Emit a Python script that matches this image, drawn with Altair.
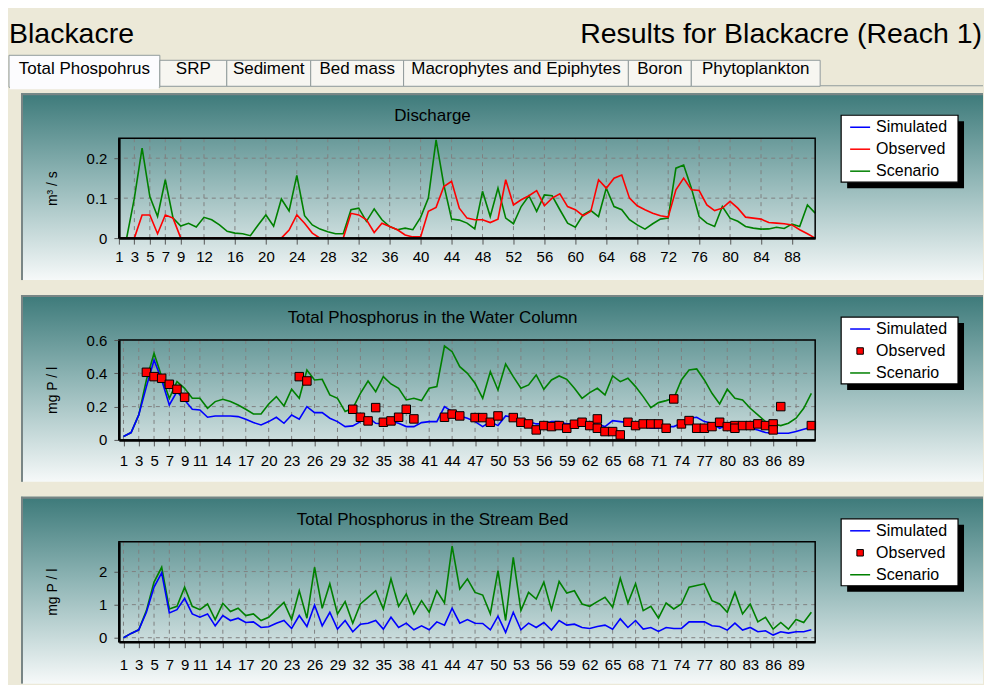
import altair as alt
import pandas as pd

FONT = "Liberation Sans"
W, H = 697, 100
RIGHT = 865  # right edge of the panels, relative to the plot area

# ---------------- data ----------------
days = list(range(1, 92))
series_names = ["Simulated", "Observed", "Scenario"]

header_left = "Blackacre"
header_right = "Results for Blackacre (Reach 1)"
tab_labels = ["Total Phospohrus", "SRP", "Sediment", "Bed mass",
              "Macrophytes and Epiphytes", "Boron", "Phytoplankton"]
panel_titles = ["Discharge", "Total Phosphorus in the Water Column",
                "Total Phosphorus in the Stream Bed"]
y_titles = ["m³ / s", "mg P / l", "mg P / l"]

ticks_dis = [1, 3, 5, 7, 9, 12, 16, 20, 24, 28, 32, 36, 40, 44, 48, 52, 56,
             60, 64, 68, 72, 76, 80, 84, 88]
ticks_tp = [1, 3, 5, 7, 9, 11, 14, 17, 20, 23, 26, 29, 32, 35, 38, 41, 44,
            47, 50, 53, 56, 59, 62, 65, 68, 71, 74, 77, 80, 83, 86, 89]
yticks_dis = [0, 0.1, 0.2]
yticks_tpw = [0, 0.2, 0.4, 0.6]
yticks_tpb = [0, 1, 2]

# Discharge (m3/s)
dis_observed = [
    0, 0, 0, 0.058, 0.058, 0.011, 0.058, 0.05, 0, 0,
    0, 0, 0, 0, 0, 0, 0, 0, 0, 0,
    0, 0, 0.02, 0.058, 0.037, 0.0125, 0, 0, 0, 0,
    0.062, 0.058, 0.046, 0.014, 0.037, 0.029, 0.021, 0.008, 0.003, 0.003,
    0.067, 0.077, 0.129, 0.142, 0.075, 0.05, 0.046, 0.046, 0.039, 0.0475,
    0.146, 0.083, 0.096, 0.106, 0.119, 0.081, 0.1, 0.111, 0.079, 0.071,
    0.056, 0.067, 0.146, 0.125, 0.15, 0.158, 0.1, 0.081, 0.071, 0.0625,
    0.056, 0.0525, 0.121, 0.15, 0.121, 0.119, 0.083, 0.069, 0.075, 0.092,
    0.075, 0.0525, 0.05, 0.0475, 0.039, 0.0375, 0.036, 0.033, 0.021, 0.011,
    0.0]
dis_scenario = [
    0, 0, 0.1, 0.225, 0.104, 0.054, 0.146, 0.05, 0.03, 0.037,
    0.028, 0.052, 0.046, 0.033, 0.017, 0.0125, 0.011, 0.006, 0.033, 0.058,
    0.03, 0.098, 0.068, 0.157, 0.056, 0.033, 0.0225, 0.016, 0.011, 0.011,
    0.071, 0.075, 0.042, 0.073, 0.046, 0.029, 0.021, 0.025, 0.021, 0.052,
    0.1, 0.246, 0.133, 0.048, 0.045, 0.0375, 0.023, 0.117, 0.054, 0.125,
    0.05, 0.036, 0.079, 0.106, 0.067, 0.108, 0.106, 0.071, 0.0375, 0.0275,
    0.058, 0.069, 0.054, 0.125, 0.079, 0.071, 0.046, 0.033, 0.0225, 0.036,
    0.0475, 0.05, 0.175, 0.183, 0.125, 0.054, 0.0375, 0.029, 0.079, 0.05,
    0.042, 0.029, 0.025, 0.0225, 0.023, 0.027, 0.024, 0.035, 0.029, 0.083,
    0.0625]

# Total phosphorus in the water column (mg P/l)
tpw_simulated = [
    0.02, 0.044, 0.15, 0.32, 0.48, 0.36, 0.21, 0.29, 0.24, 0.184,
    0.18, 0.136, 0.144, 0.144, 0.144, 0.14, 0.124, 0.104, 0.09, 0.11,
    0.136, 0.1, 0.15, 0.124, 0.2, 0.164, 0.164, 0.13, 0.11, 0.08,
    0.084, 0.11, 0.136, 0.1, 0.096, 0.11, 0.1, 0.08, 0.08, 0.104,
    0.11, 0.11, 0.2, 0.17, 0.144, 0.13, 0.11, 0.08, 0.11, 0.086,
    0.144, 0.136, 0.116, 0.11, 0.096, 0.096, 0.11, 0.11, 0.096, 0.096,
    0.104, 0.09, 0.094, 0.08, 0.116, 0.11, 0.104, 0.096, 0.08, 0.07,
    0.07, 0.08, 0.08, 0.10, 0.13, 0.136, 0.11, 0.10, 0.07, 0.09,
    0.08, 0.07, 0.07, 0.06, 0.044, 0.04, 0.04, 0.04, 0.05, 0.064,
    0.076]
tpw_scenario = [
    0.02, 0.044, 0.15, 0.36, 0.52, 0.38, 0.25, 0.35, 0.31, 0.25,
    0.25, 0.19, 0.23, 0.244, 0.23, 0.21, 0.184, 0.156, 0.156, 0.216,
    0.26, 0.204, 0.304, 0.25, 0.42, 0.36, 0.364, 0.27, 0.25, 0.17,
    0.19, 0.28, 0.354, 0.29, 0.38, 0.336, 0.31, 0.24, 0.25, 0.236,
    0.31, 0.32, 0.564, 0.53, 0.44, 0.40, 0.34, 0.25, 0.41, 0.30,
    0.456, 0.38, 0.31, 0.33, 0.39, 0.304, 0.36, 0.384, 0.364, 0.31,
    0.25, 0.284, 0.31, 0.27, 0.384, 0.35, 0.37, 0.32, 0.26, 0.194,
    0.224, 0.236, 0.25, 0.36, 0.42, 0.426, 0.36, 0.28, 0.216, 0.304,
    0.25, 0.24, 0.19, 0.15, 0.11, 0.096, 0.086, 0.10, 0.13, 0.19,
    0.28]
tpw_obs_days = [4, 5, 6, 7, 8, 9, 24, 25, 31, 32, 33, 34, 35, 36, 37, 38, 39,
                43, 44, 45, 47, 48, 49, 50, 52, 53, 54, 55, 56, 57, 58, 59, 60,
                61, 62, 63, 63, 64, 65, 66, 67, 68, 69, 70, 71, 72, 73, 74, 75,
                76, 77, 78, 79, 80, 81, 81, 82, 83, 84, 85, 86, 86, 87, 91]
tpw_obs_vals = [0.406, 0.38, 0.37, 0.334, 0.304, 0.256, 0.38, 0.354, 0.184,
                0.136, 0.114, 0.194, 0.106, 0.114, 0.136, 0.184, 0.126,
                0.136, 0.155, 0.144, 0.134, 0.134, 0.106, 0.144, 0.134, 0.106,
                0.096, 0.06, 0.086, 0.08, 0.086, 0.07, 0.094, 0.106, 0.086,
                0.126, 0.07, 0.05, 0.05, 0.03, 0.106, 0.086, 0.096, 0.096,
                0.096, 0.07, 0.246, 0.096, 0.116, 0.07, 0.07, 0.08, 0.106,
                0.08, 0.086, 0.07, 0.086, 0.086, 0.096, 0.086, 0.096, 0.06,
                0.2, 0.086]

# Total phosphorus in the stream bed (mg P/l)
tpb_simulated = [
    0.0, 0.13, 0.24, 0.77, 1.53, 1.96, 0.75, 0.85, 1.19, 0.72,
    0.62, 0.72, 0.36, 0.67, 0.52, 0.59, 0.46, 0.48, 0.31, 0.33,
    0.44, 0.52, 0.28, 0.67, 0.34, 0.99, 0.36, 0.77, 0.26, 0.52,
    0.18, 0.41, 0.44, 0.52, 0.26, 0.62, 0.31, 0.44, 0.24, 0.36,
    0.24, 0.48, 0.38, 0.89, 0.44, 0.55, 0.44, 0.43, 0.24, 0.65,
    0.16, 0.77, 0.24, 0.44, 0.31, 0.46, 0.23, 0.52, 0.38, 0.41,
    0.31, 0.28, 0.34, 0.38, 0.26, 0.57, 0.31, 0.52, 0.26, 0.31,
    0.19, 0.31, 0.28, 0.28, 0.48, 0.48, 0.48, 0.36, 0.34, 0.23,
    0.44, 0.23, 0.31, 0.18, 0.21, 0.08, 0.18, 0.14, 0.18, 0.18,
    0.24]
tpb_scenario = [
    0.0, 0.13, 0.24, 0.82, 1.68, 2.13, 0.87, 0.95, 1.53, 0.95,
    0.85, 1.02, 0.55, 1.04, 0.79, 0.89, 0.67, 0.72, 0.52, 0.62,
    0.85, 1.07, 0.55, 1.42, 0.59, 2.13, 0.89, 1.63, 0.72, 1.09,
    0.44, 1.02, 1.22, 1.42, 0.87, 1.78, 0.95, 1.32, 0.72, 1.12,
    0.77, 1.42, 1.05, 2.77, 1.47, 1.78, 1.37, 1.29, 0.72, 2.03,
    0.52, 2.43, 0.82, 1.37, 1.17, 1.68, 0.85, 1.70, 1.35, 1.42,
    1.02, 0.95, 1.09, 1.22, 0.92, 1.80, 1.05, 1.63, 0.82, 0.95,
    0.59, 1.05, 0.87, 1.02, 1.53, 1.58, 1.63, 1.12, 1.02, 0.77,
    1.37, 0.72, 1.02, 0.48, 0.62, 0.26, 0.46, 0.26, 0.55, 0.46,
    0.77]

# ---------------- styling ----------------
BLUE, RED, GREEN = "#0000ff", "#ff0000", "#008000"
BEIGE = "#ece9d8"
EDGE = "#788585"
one = pd.DataFrame({"k": [0]})

grad = alt.LinearGradient(
    gradient="linear",
    stops=[alt.GradientStop(offset=0, color="#3d7a7a"),
           alt.GradientStop(offset=0.45, color="#8fb5b5"),
           alt.GradientStop(offset=1, color="#f6f9f9")],
    x1=0, x2=0, y1=0, y2=1)


def d_text(text, x, y, size, align="left", baseline="alphabetic", color="black"):
    return alt.Chart(one).mark_text(
        text=text, font=FONT, fontSize=size, align=align, baseline=baseline,
        color=color).encode(x=alt.value(x), y=alt.value(y))


def d_rect(x, x2, y, y2, fill, stroke=None, sw=1.0, fill_opacity=1.0):
    kw = dict(fill=fill, fillOpacity=fill_opacity)
    if stroke is not None:
        kw.update(stroke=stroke, strokeWidth=sw)
    return alt.Chart(one).mark_rect(**kw).encode(
        x=alt.value(x), x2=alt.value(x2), y=alt.value(y), y2=alt.value(y2))


def d_rule(x, x2, y, y2, color, sw):
    return alt.Chart(one).mark_rule(color=color, strokeWidth=sw).encode(
        x=alt.value(x), x2=alt.value(x2), y=alt.value(y), y2=alt.value(y2))


def legend(obs_square):
    layers = [d_rect(729, 846, -17, 50, "black"),
              d_rect(723, 840, -23, 44, "white", stroke="black", sw=1.2)]
    rows = [-11, 11, 33]
    colors = [BLUE, RED, GREEN]
    for name, col, ry in zip(series_names, colors, rows):
        if name == "Observed" and obs_square:
            layers.append(alt.Chart(one).mark_square(
                size=42, fill=RED, stroke="black", strokeWidth=1, opacity=1,
                filled=True).encode(x=alt.value(742), y=alt.value(ry)))
        else:
            layers.append(d_rule(732, 752, ry, ry, col, 1.5))
        layers.append(d_text(name, 758, ry, 16, baseline="middle"))
    return layers


def panel(df, lines, xdomain, xticks, ydomain, yticks, ytitle, title,
          label_pad, leg, obs=None, extra_top=None):
    xscale = alt.Scale(domain=xdomain, nice=False, zero=False)
    yscale = alt.Scale(domain=ydomain, nice=False, zero=False)
    xaxis = alt.Axis(values=xticks, title=None, grid=False, labelOverlap=False,
                     labelFlush=False, labelFontSize=15, labelFont=FONT,
                     labelColor="black", labelPadding=label_pad, tickSize=6,
                     tickColor="#555555", domainColor="black", domainWidth=2.5,
                     zindex=1)
    yaxis = alt.Axis(values=yticks, format="~g", title=ytitle, grid=False,
                     labelFontSize=15, labelFont=FONT, labelColor="black",
                     labelPadding=7, tickSize=5, tickColor="#555555",
                     domainColor="black", domainWidth=2.5, titleX=-66,
                     titleY=H / 2, titleAngle=270, titleAlign="center",
                     titleBaseline="middle", titleFontSize=14, titleFont=FONT,
                     titleFontWeight="normal", titleColor="black", zindex=1)
    layers = []
    if extra_top:
        layers += extra_top
    layers += [
        d_rect(-98, RIGHT, -45, 142, grad),
        d_rect(-98, RIGHT, -45, -43, EDGE),
        d_rect(-98, -96, -45, 142, EDGE),
    ]
    layers.append(alt.Chart(pd.DataFrame({"t": xticks})).mark_rule(
        color="#808080", strokeDash=[4, 4], strokeWidth=1).encode(
        x=alt.X("t:Q", scale=xscale, axis=xaxis)))
    layers.append(alt.Chart(pd.DataFrame({"v": yticks})).mark_rule(
        color="#808080", strokeDash=[4, 4], strokeWidth=1).encode(
        y=alt.Y("v:Q", scale=yscale, axis=yaxis)))
    for field, col in lines:
        layers.append(alt.Chart(df).mark_line(color=col, strokeWidth=1.6).encode(
            x=alt.X("day:Q", scale=xscale, axis=xaxis),
            y=alt.Y(f"{field}:Q", scale=yscale, axis=yaxis)))
    if obs is not None:
        layers.append(alt.Chart(obs).mark_square(
            size=72, fill=RED, stroke="black", strokeWidth=1, opacity=1,
            filled=True).encode(
            x=alt.X("day:Q", scale=xscale, axis=xaxis),
            y=alt.Y("value:Q", scale=yscale, axis=yaxis)))
    layers.append(d_rect(0, W, 0, H, "white", stroke="black", sw=1.5,
                         fill_opacity=0))
    layers += leg
    layers.append(d_text(title, 314, -22, 17, align="center", baseline="middle"))
    return alt.layer(*layers).properties(width=W, height=H)


# header + tabs (drawn in the first panel, positions relative to its plot area)
tab_edges = [-110, 41, 108, 192, 285, 510, 573, 702]
header = [d_rect(-110, RIGHT, -129, -45, BEIGE),
          d_text(header_left, -110, -95, 28.5),
          d_text(header_right, RIGHT - 1, -95, 28.5, align="right"),
          d_rect(41, RIGHT, -53, -52, "#919b9c")]
for i, lab in enumerate(tab_labels):
    x0, x1 = tab_edges[i], tab_edges[i + 1]
    if i == 0:
        header.append(d_rect(x0, x1, -83, -51, "#fcfcfe", stroke="#919b9c", sw=1))
        header.append(d_rect(x0 + 1, x1 - 1, -53, -49, "#fcfcfe"))
    else:
        header.append(d_rect(x0, x1, -78, -52, "#f7f6f1", stroke="#919b9c", sw=1))
    header.append(d_text(lab, (x0 + x1) / 2, -64, 17, align="center"))

df_dis = pd.DataFrame({"day": days, "observed": dis_observed,
                       "scenario": dis_scenario})
df_tpw = pd.DataFrame({"day": days, "simulated": tpw_simulated,
                       "scenario": tpw_scenario})
obs_tpw = pd.DataFrame({"day": tpw_obs_days, "value": tpw_obs_vals})
df_tpb = pd.DataFrame({"day": days, "simulated": tpb_simulated,
                       "scenario": tpb_scenario})

p1 = panel(df_dis, [("scenario", GREEN), ("observed", RED)], [1, 91],
           ticks_dis, [0, 0.25], yticks_dis, y_titles[0], panel_titles[0], 5,
           legend(False), extra_top=header)
p2 = panel(df_tpw, [("scenario", GREEN), ("simulated", BLUE)], [0.4, 91.5],
           ticks_tp, [0, 0.6], yticks_tpw, y_titles[1], panel_titles[1], 8,
           legend(True), obs=obs_tpw)
p3 = panel(df_tpb, [("scenario", GREEN), ("simulated", BLUE)], [0.4, 91.5],
           ticks_tp, [-0.12, 2.9], yticks_tpb, y_titles[2], panel_titles[2], 10,
           legend(True))

chart = alt.vconcat(p1, p2, p3, spacing=13).properties(
    padding=0, background=BEIGE).configure(font=FONT)

chart.save("out.html", embed_options={"renderer": "svg", "actions": False})
